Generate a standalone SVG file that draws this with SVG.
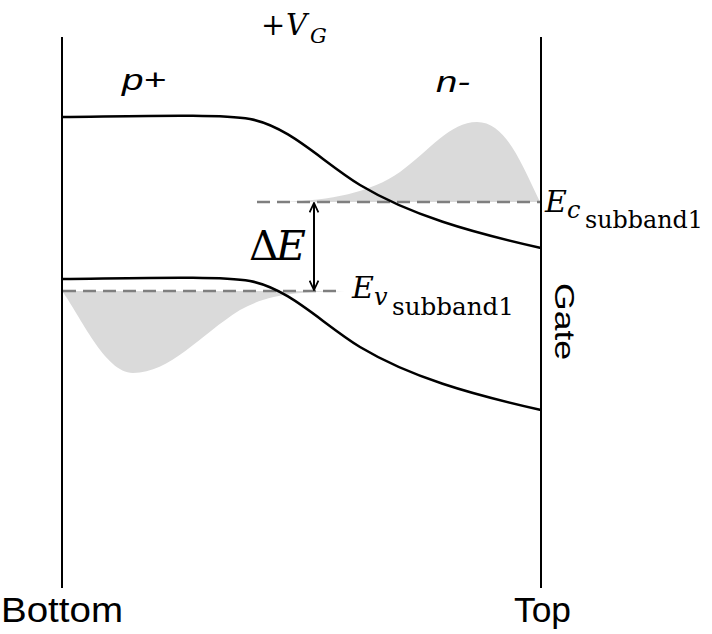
<svg xmlns="http://www.w3.org/2000/svg" width="712" height="634" viewBox="0 0 712 634">
  <defs>
    <style>
      .axis { stroke: #000; stroke-width: 2; fill: none; }
      .band { stroke: #000; stroke-width: 2.5; fill: none; }
      .shade { fill: #dadada; stroke: none; }
      .level { stroke: #7f7f7f; stroke-width: 2.5; stroke-dasharray: 13 7; fill: none; }
      .sans { font-family: "Liberation Sans", Arial, sans-serif; fill: #000; }
      .math { font-family: "DejaVu Serif", "Liberation Serif", serif; fill: #000; }
      .it { font-style: italic; }
    </style>
    <marker id="arrowhead" viewBox="0 0 10 10" refX="9.5" refY="5" markerWidth="11" markerHeight="11" markerUnits="userSpaceOnUse" orient="auto-start-reverse">
      <path d="M1,1 L9.5,5 L1,9" fill="none" stroke="#000" stroke-width="1.6"/>
    </marker>
  </defs>
  <rect width="712" height="634" fill="#fff"/>

  <g id="shading">
    <path class="shade" d="M285,202 C330,200 370,193 400,172 C430,150 450,122 477,122 C505,122 520,160 540,202 Z"/>
    <path class="shade" d="M62,291 C80,315 105,373 133,373 C170,373 200,335 240,310 C270,293 300,292 345,291 Z"/>
  </g>

  <g id="levels">
    <line class="level" x1="257" y1="202" x2="540" y2="202"/>
    <line class="level" x1="63" y1="291" x2="343" y2="291"/>
  </g>

  <g id="bands">
    <path id="conduction-band" class="band" d="M62,117 C150,116 220,114 250,119 C290,127 320,160 360,185 C410,215 470,232 541,248"/>
    <path id="valence-band" class="band" d="M62,279 C150,278 220,276 250,281 C290,289 320,322 360,347 C410,377 470,394 541,410"/>
  </g>

  <g id="boundaries">
    <line class="axis" x1="62" y1="37" x2="62" y2="588"/>
    <line class="axis" x1="541" y1="37" x2="541" y2="588"/>
  </g>

  <g id="connectors">
    <line x1="314" y1="290" x2="314" y2="203" stroke="#000" stroke-width="2" marker-start="url(#arrowhead)" marker-end="url(#arrowhead)"/>
  </g>

  <g id="labels">
    <text class="math" x="261" y="35" font-size="29">+</text>
    <text class="math it" x="286" y="35" font-size="29">V</text>
    <text class="math it" x="310" y="43" font-size="21">G</text>

    <text class="sans it" x="122" y="90" font-size="30" textLength="44" lengthAdjust="spacingAndGlyphs">p+</text>
    <text class="sans it" x="436" y="92" font-size="30" textLength="34" lengthAdjust="spacingAndGlyphs">n-</text>

    <text class="math" x="249" y="260" font-size="41">Δ</text>
    <text class="math it" x="276" y="260" font-size="41">E</text>

    <text class="math it" x="545" y="212" font-size="30">E</text>
    <text class="math it" x="567" y="218" font-size="24">c</text>
    <text class="math" x="585" y="228" font-size="24" textLength="118" lengthAdjust="spacingAndGlyphs">subband1</text>

    <text class="math it" x="352" y="298" font-size="30">E</text>
    <text class="math it" x="374" y="305" font-size="24">v</text>
    <text class="math" x="392" y="315" font-size="24" textLength="122" lengthAdjust="spacingAndGlyphs">subband1</text>

    <text class="sans" transform="translate(555,283) rotate(90)" font-size="28" textLength="77" lengthAdjust="spacingAndGlyphs">Gate</text>
    <text class="sans" x="1" y="622" font-size="35" textLength="122" lengthAdjust="spacingAndGlyphs">Bottom</text>
    <text class="sans" x="514" y="622" font-size="35" textLength="57" lengthAdjust="spacingAndGlyphs">Top</text>
  </g>
</svg>
